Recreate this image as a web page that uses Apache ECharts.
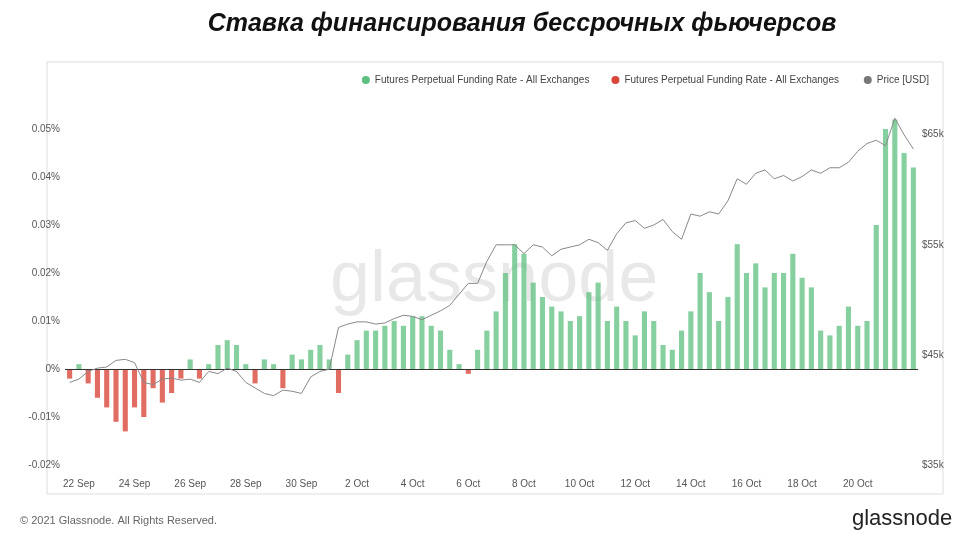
<!DOCTYPE html>
<html><head><meta charset="utf-8">
<script src="https://cdn.jsdelivr.net/npm/echarts@6/dist/echarts.min.js"></script>
<style>html,body{margin:0;background:#fff}#c{width:974px;height:541px}</style>
</head><body><div id="c"></div>
<script>
// funding rate (%), 8-hour steps starting 21 Sep 16:00
const funding = [
-0.002,0.001,
-0.003,-0.006,-0.008,
-0.011,-0.013,-0.008,
-0.010,-0.004,-0.007,
-0.005,-0.002,0.002,
-0.002,0.001,0.005,
0.006,0.005,0.001,
-0.003,0.002,0.001,
-0.004,0.003,0.002,
0.004,0.005,0.002,
-0.005,0.003,0.006,
0.008,0.008,0.009,
0.010,0.009,0.011,
0.011,0.009,0.008,
0.004,0.001,-0.001,
0.004,0.008,0.012,
0.020,0.026,0.024,
0.018,0.015,0.013,
0.012,0.010,0.011,
0.016,0.018,0.010,
0.013,0.010,0.007,
0.012,0.010,0.005,
0.004,0.008,0.012,
0.020,0.016,0.010,
0.015,0.026,0.020,
0.022,0.017,0.020,
0.020,0.024,0.019,
0.017,0.008,0.007,
0.009,0.013,0.009,
0.010,0.030,0.050,
0.052,0.045,0.042];
// price (k USD)
const price = [
42.5,42.8,
43.5,43.8,43.9,
44.5,44.6,44.3,
42.5,42.3,42.8,
42.9,42.7,42.8,
42.5,43.5,43.3,
43.8,43.5,42.5,
42.0,41.5,41.3,
41.8,41.7,41.5,
43.0,43.5,43.7,
47.5,47.8,48.0,
48.0,47.8,47.9,
48.3,48.6,48.5,
48.2,48.6,49.0,
49.5,50.5,51.5,
51.5,53.5,55.0,
55.0,55.0,54.2,
55.0,54.8,54.0,
54.6,54.8,55.0,
55.5,55.2,54.5,
56.0,57.0,57.2,
56.5,56.8,57.3,
56.2,55.5,57.8,
57.6,58.0,57.8,
59.0,61.0,60.5,
61.5,61.8,61.0,
61.3,60.8,61.2,
61.8,61.5,62.0,
62.0,62.5,63.5,
64.2,64.5,64.0,
66.5,65.0,63.7];
const leftTicks = ['-0.02%','-0.01%','0%','0.01%','0.02%','0.03%','0.04%','0.05%'];
const rightTicks = ['$35k','$45k','$55k','$65k'];
const months = ['Jan','Feb','Mar','Apr','May','Jun','Jul','Aug','Sep','Oct','Nov','Dec'];
const start = Date.UTC(2021,8,21,16);
const cats = funding.map((_, i) => new Date(start + i*8*3600e3));
const catLabels = cats.map(d => d.getUTCDate()+' '+months[d.getUTCMonth()]);
const showIdx = cats.map((d,i) => i < cats.length-1 && d.getUTCHours()===0 && d.getUTCDate()%2===0);
const pos = funding.map(v => v >= 0 ? v : null);
const neg = funding.map(v => v < 0 ? v : null);
const chart = echarts.init(document.getElementById('c'));
const gray = '#555';
chart.setOption({
  animation:false,
  title:{text:'Ставка финансирования бессрочных фьючерсов',left:517,textAlign:'center',top:7,
    textStyle:{fontSize:25,fontWeight:'bold',fontStyle:'italic',color:'#111',fontFamily:'Liberation Sans Narrow, Liberation Sans'}},
  graphic:[
    {type:'rect',shape:{x:47,y:62,width:896,height:432},style:{fill:'none',stroke:'#ddd',lineWidth:1},z:-1},
    {type:'text',left:330,top:245,style:{text:'glassnode',fontSize:72,fill:'rgba(0,0,0,0.09)',fontFamily:'Liberation Sans'},z:-1},
    {type:'text',left:20,top:515,style:{text:'© 2021 Glassnode. All Rights Reserved.',fontSize:11,fill:'#666',fontFamily:'Liberation Sans'}},
    {type:'text',left:852,top:508,style:{text:'glassnode',fontSize:22,fill:'#222',fontFamily:'Liberation Sans'}}
  ],
  legend:{top:70,right:40,itemWidth:8,itemHeight:8,itemGap:22,icon:'circle',
    textStyle:{fontSize:10,color:'#444',fontFamily:'Liberation Sans'},
    data:[{name:'Futures Perpetual Funding Rate - All Exchanges',itemStyle:{color:'#5dbf7e'}},
          {name:'Futures Perpetual Funding Rate - All Exchanges ',itemStyle:{color:'#d9473b'}},
          {name:'Price [USD]',itemStyle:{color:'#777'}}]},
  grid:{left:65,right:56,top:105,bottom:76},
  xAxis:{type:'category',data:catLabels,boundaryGap:true,
    axisLine:{show:false},axisTick:{show:false},
    axisLabel:{interval:(i)=>showIdx[i],fontSize:10,color:gray,margin:14,fontFamily:'Liberation Sans'}},
  yAxis:[
    {type:'value',min:-0.02,max:0.055,interval:0.01,splitLine:{show:false},
     axisLabel:{showMaxLabel:false,fontSize:10,color:gray,margin:5,
       formatter:v=>leftTicks[Math.round(v*100)+2]}},
    {type:'value',min:35,max:67.7,interval:10,splitLine:{show:false},
     axisLabel:{showMaxLabel:false,fontSize:10,color:gray,margin:4,
       formatter:v=>rightTicks[Math.round((v-35)/10)]}}
  ],
  series:[
    {name:'Futures Perpetual Funding Rate - All Exchanges',type:'bar',data:pos,barCategoryGap:'45%',
     itemStyle:{color:'rgba(93,191,126,0.75)'},
     markLine:{symbol:'none',silent:true,label:{show:false},lineStyle:{color:'#333',type:'solid',width:1},data:[{yAxis:0}]}},
    {name:'Futures Perpetual Funding Rate - All Exchanges ',type:'bar',data:neg,barGap:'-100%',barCategoryGap:'45%',
     itemStyle:{color:'rgba(217,71,59,0.8)'}},
    {name:'Price [USD]',type:'line',yAxisIndex:1,data:price,symbol:'none',
     lineStyle:{color:'#888',width:1},itemStyle:{color:'#888'},z:5}
  ]
});
</script></body></html>
